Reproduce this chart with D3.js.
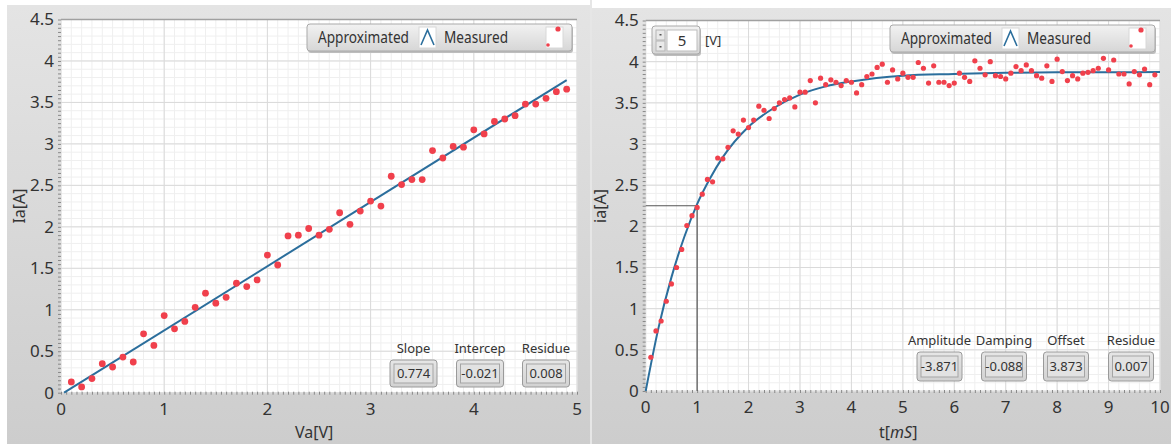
<!DOCTYPE html>
<html>
<head>
<meta charset="utf-8">
<script src="https://cdnjs.cloudflare.com/ajax/libs/d3/7.8.5/d3.min.js"></script>
<style>
  body { margin: 0; background: #fff; }
  svg { display: block; font-family: "Noto Sans", "Open Sans", sans-serif; }
  .tick-label { font-size: 17px; fill: #333; }
  .axis-title { font-size: 16px; fill: #333; }
  .legend-text { font-size: 16px; fill: #333; }
  .ind-label { font-size: 13px; fill: #333; }
  .ind-value { font-size: 13px; fill: #333; }
</style>
</head>
<body>
<svg id="chart" width="1171" height="444"></svg>
<script>
// ---- data: left (linear fit) ----
var vaValues = d3.range(1, 50).map(function(i) { return i / 10; });
var iaMeasured = [0.13, 0.07, 0.17, 0.35, 0.31, 0.43, 0.37, 0.71, 0.57, 0.93,
  0.77, 0.86, 1.03, 1.20, 1.08, 1.15, 1.32, 1.28, 1.36, 1.66,
  1.54, 1.89, 1.90, 1.98, 1.90, 1.97, 2.17, 2.03, 2.19, 2.31,
  2.25, 2.61, 2.51, 2.57, 2.57, 2.92, 2.83, 2.97, 2.96, 3.17,
  3.12, 3.27, 3.30, 3.34, 3.48, 3.48, 3.55, 3.63, 3.66];
var linFitX = [0.03, 4.9];
var linFitY = [0.0, 3.77];
var linLabels = ["Slope", "Intercep", "Residue"];
var linValues = ["0.774", "-0.021", "0.008"];

// ---- data: right (step response) ----
var tValues = d3.range(1, 100).map(function(i) { return i / 10; });
var iaStep = [0.41, 0.73, 0.85, 1.09, 1.30, 1.50, 1.72, 2.01, 2.13, 2.23,
  2.39, 2.57, 2.54, 2.83, 2.82, 2.96, 3.16, 3.12, 3.29, 3.20,
  3.29, 3.46, 3.41, 3.31, 3.43, 3.50, 3.54, 3.56, 3.45, 3.63,
  3.63, 3.77, 3.50, 3.80, 3.72, 3.78, 3.75, 3.71, 3.77, 3.75,
  3.62, 3.72, 3.82, 3.85, 3.93, 3.97, 3.75, 3.90, 3.79, 3.86,
  3.81, 3.81, 3.99, 3.92, 3.74, 3.95, 3.75, 3.75, 3.71, 3.74,
  3.86, 3.81, 3.76, 4.01, 3.92, 3.84, 4.00, 3.83, 3.82, 3.79,
  3.86, 3.94, 3.89, 3.96, 3.89, 3.83, 3.80, 3.95, 3.76, 4.03,
  3.88, 3.77, 3.83, 3.79, 3.86, 3.87, 3.89, 3.92, 4.04, 3.90,
  4.02, 3.85, 3.85, 3.73, 3.88, 3.84, 3.91, 3.72, 3.84];
var expFitT = [0, 0.25, 0.5, 0.75, 1, 1.25, 1.5, 2, 2.5, 3, 3.5, 4, 5, 6, 7, 8, 9, 10];
var expFitY = [0.00, 0.77, 1.38, 1.87, 2.27, 2.58, 2.84, 3.21, 3.44, 3.60, 3.70, 3.76, 3.83, 3.85, 3.865, 3.87, 3.872, 3.873];
var cursorT = 1, cursorY = 2.25;
var expLabels = ["Amplitude", "Damping", "Offset", "Residue"];
var expValues = ["-3.871", "-0.088", "3.873", "0.007"];

var yTicks = [0, 0.5, 1, 1.5, 2, 2.5, 3, 3.5, 4, 4.5];

var svg = d3.select('#chart');
var defs = svg.append('defs');

var g1 = defs.append('linearGradient').attr('id', 'panelGrad').attr('x1', 0).attr('y1', 0).attr('x2', 0).attr('y2', 1);
g1.append('stop').attr('offset', '0%').attr('stop-color', '#e4e4e4');
g1.append('stop').attr('offset', '100%').attr('stop-color', '#cdcdcd');
var g2 = defs.append('linearGradient').attr('id', 'btnGrad').attr('x1', 0).attr('y1', 0).attr('x2', 0).attr('y2', 1);
g2.append('stop').attr('offset', '0%').attr('stop-color', '#f2f2f2');
g2.append('stop').attr('offset', '100%').attr('stop-color', '#d6d6d6');
var g3 = defs.append('linearGradient').attr('id', 'indGrad').attr('x1', 0).attr('y1', 0).attr('x2', 0).attr('y2', 1);
g3.append('stop').attr('offset', '0%').attr('stop-color', '#e6e6e6');
g3.append('stop').attr('offset', '100%').attr('stop-color', '#d2d2d2');

var lineColor = '#2b6e9c', dotColor = '#f0404c';

function drawPanel(cfg) {
  var p = svg.append('g');
  // panel background
  p.append('rect').attr('x', cfg.panel[0]).attr('y', cfg.panel[1])
    .attr('width', cfg.panel[2]).attr('height', 444 - cfg.panel[1])
    .attr('fill', 'url(#panelGrad)');

  var x = d3.scaleLinear().domain(cfg.xDomain).range([cfg.plot[0], cfg.plot[1]]);
  var y = d3.scaleLinear().domain([0, 4.5]).range([cfg.plot[3], cfg.plot[2]]);

  // plot area
  p.append('rect').attr('x', x(cfg.xDomain[0])).attr('y', y(4.5))
    .attr('width', x(cfg.xDomain[1]) - x(cfg.xDomain[0]))
    .attr('height', y(0) - y(4.5)).attr('fill', '#fff');

  // minor grid
  var xMinor = d3.range(cfg.xDomain[0], cfg.xDomain[1] + 1e-9, cfg.xMinorGrid);
  var yMinor = d3.range(0, 4.5 + 1e-9, 0.1);
  p.append('g').selectAll('line').data(xMinor).enter().append('line')
    .attr('x1', x).attr('x2', x).attr('y1', y(0)).attr('y2', y(4.5))
    .attr('stroke', '#efefef').attr('stroke-width', 1);
  p.append('g').selectAll('line').data(yMinor).enter().append('line')
    .attr('y1', y).attr('y2', y).attr('x1', x(cfg.xDomain[0])).attr('x2', x(cfg.xDomain[1]))
    .attr('stroke', '#efefef').attr('stroke-width', 1);
  // major grid
  p.append('g').selectAll('line').data(cfg.xTicks).enter().append('line')
    .attr('x1', x).attr('x2', x).attr('y1', y(0)).attr('y2', y(4.5))
    .attr('stroke', '#dadada').attr('stroke-width', 1);
  p.append('g').selectAll('line').data(yTicks).enter().append('line')
    .attr('y1', y).attr('y2', y).attr('x1', x(cfg.xDomain[0])).attr('x2', x(cfg.xDomain[1]))
    .attr('stroke', '#dadada').attr('stroke-width', 1);

  // top border
  p.append('line').attr('x1', x(cfg.xDomain[0])).attr('x2', x(cfg.xDomain[1]))
    .attr('y1', y(4.5)).attr('y2', y(4.5)).attr('stroke', '#a0a0a0').attr('stroke-width', 1.5);

  // axes (dotted minor ticks)
  var yAxis = d3.axisLeft(y).tickValues(d3.range(0, 4.5 + 1e-9, 0.05)).tickSize(3).tickFormat('');
  p.append('g').attr('transform', 'translate(' + x(cfg.xDomain[0]) + ',0)').call(yAxis)
    .call(function(g) { g.select('.domain').remove(); g.selectAll('line').attr('stroke', '#888'); });
  var xAxis = d3.axisBottom(x).tickValues(d3.range(cfg.xDomain[0], cfg.xDomain[1] + 1e-9, cfg.xTickStep)).tickSize(3).tickFormat('');
  p.append('g').attr('transform', 'translate(0,' + y(0) + ')').call(xAxis)
    .call(function(g) { g.select('.domain').remove(); g.selectAll('line').attr('stroke', '#888').attr('transform', 'translate(0,-1)'); });

  // tick labels
  p.append('g').selectAll('text').data(yTicks).enter().append('text')
    .attr('class', 'tick-label').attr('x', x(cfg.xDomain[0]) - 7).attr('y', y)
    .attr('dy', '0.35em').attr('text-anchor', 'end').text(function(d) { return d; });
  p.append('g').selectAll('text').data(cfg.xTicks).enter().append('text')
    .attr('class', 'tick-label').attr('x', x).attr('y', y(0) + 22)
    .attr('text-anchor', 'middle').text(function(d) { return d; });

  // axis titles
  p.append('text').attr('class', 'axis-title')
    .attr('transform', 'translate(' + cfg.yTitleX + ',' + 206 + ') rotate(-90)')
    .attr('text-anchor', 'middle').text(cfg.yTitle);
  var xt = p.append('text').attr('class', 'axis-title').attr('x', cfg.xTitleX).attr('y', 438);
  cfg.xTitle.forEach(function(s) {
    xt.append('tspan').style('font-style', s[1] ? 'italic' : 'normal').text(s[0]);
  });

  return {g: p, x: x, y: y};
}

function drawLegend(g, x0, y0) {
  g.append('rect').attr('x', x0 + 1).attr('y', y0 + 2).attr('width', 265).attr('height', 27)
    .attr('rx', 3).attr('fill', '#bdbdbd');
  g.append('rect').attr('x', x0).attr('y', y0).attr('width', 265).attr('height', 27)
    .attr('rx', 3).attr('fill', 'url(#btnGrad)').attr('stroke', '#a9a9a9');
  g.append('text').attr('class', 'legend-text').attr('x', x0 + 11).attr('y', y0 + 19)
    .attr('textLength', 91).attr('lengthAdjust', 'spacingAndGlyphs').text('Approximated');
  g.append('rect').attr('x', x0 + 112).attr('y', y0 + 3).attr('width', 17).attr('height', 21)
    .attr('fill', '#fff').attr('stroke', '#d8d8d8');
  g.append('path').attr('d', 'M' + (x0 + 114) + ',' + (y0 + 21) + 'L' + (x0 + 120.5) + ',' + (y0 + 6) + 'L' + (x0 + 127) + ',' + (y0 + 21))
    .attr('fill', 'none').attr('stroke', lineColor).attr('stroke-width', 1.6);
  g.append('text').attr('class', 'legend-text').attr('x', x0 + 137).attr('y', y0 + 19)
    .attr('textLength', 64).attr('lengthAdjust', 'spacingAndGlyphs').text('Measured');
  g.append('rect').attr('x', x0 + 239).attr('y', y0 + 3).attr('width', 17).attr('height', 21)
    .attr('fill', '#fff').attr('stroke', '#d8d8d8');
  g.append('circle').attr('cx', x0 + 251).attr('cy', y0 + 5).attr('r', 2.6).attr('fill', dotColor);
  g.append('circle').attr('cx', x0 + 241).attr('cy', y0 + 21).attr('r', 1.8).attr('fill', dotColor);
}

function drawIndicators(g, labels, values, centers, yLabel, yBox, w, h) {
  labels.forEach(function(lab, i) {
    var cx = centers[i];
    g.append('text').attr('class', 'ind-label').attr('x', cx).attr('y', yLabel)
      .attr('text-anchor', 'middle').text(lab);
    g.append('rect').attr('x', cx - w / 2).attr('y', yBox).attr('width', w).attr('height', h)
      .attr('rx', 3).attr('fill', 'url(#indGrad)').attr('stroke', '#9a9a9a');
    g.append('rect').attr('x', cx - w / 2 + 4).attr('y', yBox + 4).attr('width', w - 8).attr('height', h - 8)
      .attr('fill', '#e2e2e2').attr('stroke', '#a5a5a5');
    g.append('text').attr('class', 'ind-value').attr('x', cx).attr('y', yBox + h / 2 + 4.5)
      .attr('text-anchor', 'middle').text(values[i]);
  });
}

// ---- left panel ----
var L = drawPanel({
  panel: [7, 5, 583], plot: [61, 577, 19.5, 392.7], xDomain: [0, 5],
  xTicks: [0, 1, 2, 3, 4, 5], xMinorGrid: 0.1, xTickStep: 0.05,
  yTitle: 'Ia[A]', yTitleX: 25, xTitle: [['Va[V]', false]], xTitleX: 295
});
L.g.append('path').datum(d3.zip(linFitX, linFitY))
  .attr('d', d3.line().x(function(d) { return L.x(d[0]); }).y(function(d) { return L.y(d[1]); }))
  .attr('fill', 'none').attr('stroke', lineColor).attr('stroke-width', 2);
L.g.append('g').selectAll('circle').data(d3.zip(vaValues, iaMeasured)).enter().append('circle')
  .attr('cx', function(d) { return L.x(d[0]); }).attr('cy', function(d) { return L.y(d[1]); })
  .attr('r', 3.4).attr('fill', dotColor);
drawLegend(L.g, 307, 24);
drawIndicators(L.g, linLabels, linValues, [413.5, 480, 546], 353, 360, 47, 27);

// divider
svg.append('rect').attr('x', 590).attr('y', 0).attr('width', 2).attr('height', 444).attr('fill', '#e6e6e6');

// ---- right panel ----
var R = drawPanel({
  panel: [592, 8, 579], plot: [645.7, 1160, 20.5, 391], xDomain: [0, 10],
  xTicks: [0, 1, 2, 3, 4, 5, 6, 7, 8, 9, 10], xMinorGrid: 0.2, xTickStep: 0.1,
  yTitle: 'ia[A]', yTitleX: 606, xTitle: [['t[', false], ['mS', true], [']', false]], xTitleX: 879
});
// cursor
R.g.append('path')
  .attr('d', 'M' + R.x(0) + ',' + R.y(cursorY) + 'H' + R.x(cursorT) + 'V' + R.y(0))
  .attr('fill', 'none').attr('stroke', '#555').attr('stroke-width', 1.2);
R.g.append('path').datum(d3.zip(expFitT, expFitY))
  .attr('d', d3.line().curve(d3.curveMonotoneX).x(function(d) { return R.x(d[0]); }).y(function(d) { return R.y(d[1]); }))
  .attr('fill', 'none').attr('stroke', lineColor).attr('stroke-width', 2);
R.g.append('g').selectAll('circle').data(d3.zip(tValues, iaStep)).enter().append('circle')
  .attr('cx', function(d) { return R.x(d[0]); }).attr('cy', function(d) { return R.y(d[1]); })
  .attr('r', 2.6).attr('fill', dotColor);
drawLegend(R.g, 890, 25);
drawIndicators(R.g, expLabels, expValues, [939.5, 1004, 1066, 1131], 345, 352, 45, 29);

// spinner control "5 [V]"
var sp = R.g.append('g');
sp.append('rect').attr('x', 653).attr('y', 28).attr('width', 48).attr('height', 28).attr('rx', 3).attr('fill', '#bdbdbd');
sp.append('rect').attr('x', 652).attr('y', 26).attr('width', 48).attr('height', 28).attr('rx', 3)
  .attr('fill', 'url(#btnGrad)').attr('stroke', '#a9a9a9');
sp.append('rect').attr('x', 656).attr('y', 30).attr('width', 9).attr('height', 10).attr('fill', '#e9e9e9').attr('stroke', '#b5b5b5');
sp.append('rect').attr('x', 656).attr('y', 41).attr('width', 9).attr('height', 10).attr('fill', '#e9e9e9').attr('stroke', '#b5b5b5');
sp.append('rect').attr('x', 659.5).attr('y', 34).attr('width', 2).attr('height', 1.5).attr('fill', '#555');
sp.append('rect').attr('x', 659.5).attr('y', 46).attr('width', 2).attr('height', 1.5).attr('fill', '#555');
sp.append('rect').attr('x', 667).attr('y', 30).attr('width', 30).attr('height', 21).attr('fill', '#fff').attr('stroke', '#bdbdbd');
sp.append('text').attr('x', 682).attr('y', 46).attr('text-anchor', 'middle').style('font-size', '15px').attr('fill', '#333').text('5');
sp.append('text').attr('x', 705).attr('y', 45).style('font-size', '13px').attr('fill', '#333').text('[V]');
</script>
</body>
</html>
